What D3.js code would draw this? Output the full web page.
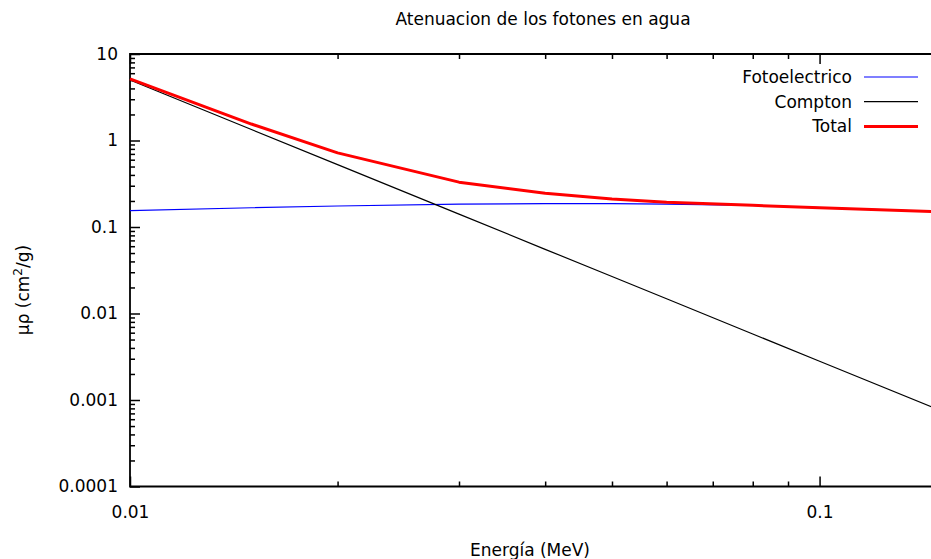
<!DOCTYPE html>
<html>
<head>
<meta charset="utf-8">
<script src="https://cdn.jsdelivr.net/npm/d3@7"></script>
<style>
  html, body { margin: 0; padding: 0; background: #fff; overflow: hidden; }
  svg { display: block; font-family: "DejaVu Sans", Verdana, sans-serif; }
</style>
</head>
<body>
<svg id="chart" width="931" height="559"></svg>
<script>
// ---- Data ----
const energia = [0.01, 0.015, 0.02, 0.03, 0.04, 0.05, 0.06, 0.08, 0.1, 0.15];
const fotoelectrico = [0.155, 0.167, 0.175, 0.184, 0.186, 0.186, 0.184, 0.178, 0.168, 0.150];
const compton = [5.0, 1.34, 0.526, 0.141, 0.0552, 0.0268, 0.0148, 0.0058, 0.00281, 0.00075];
const total = [5.15, 1.55, 0.72, 0.33, 0.245, 0.211, 0.193, 0.178, 0.167, 0.150];

const seriesNames = ["Fotoelectrico", "Compton", "Total"];
const seriesColors = ["#0000ff", "#000000", "#ff0000"];
const seriesWidths = [1.2, 1.2, 3];

const xTickValues = [0.01, 0.1];
const xTickLabels = ["0.01", "0.1"];
const yTickValues = [10, 1, 0.1, 0.01, 0.001, 0.0001];
const yTickLabels = ["10", "1", "0.1", "0.01", "0.001", "0.0001"];

const titleText = "Atenuacion de los fotones en agua";
const xLabelText = "Energía (MeV)";

// ---- Layout ----
const svg = d3.select("#chart");
const mLeft = 130, mRight = 941, mTop = 54, mBottom = 486.5;
const fontSize = 17;

const x = d3.scaleLog().domain([0.01, 0.15]).range([mLeft, mRight]);
const y = d3.scaleLog().domain([0.0001, 10]).range([mBottom, mTop]);

// minor ticks
function minorTicks(lo, hi) {
  const out = [];
  for (let e = Math.floor(Math.log10(lo)); e <= Math.ceil(Math.log10(hi)); e++) {
    for (let m = 2; m <= 9; m++) {
      const v = m * Math.pow(10, e);
      if (v > lo * 1.0001 && v < hi * 0.9999) out.push(v);
    }
  }
  return out;
}
const xMinor = minorTicks(0.01, 0.15);
const yMinor = minorTicks(0.0001, 10);

function styleAxis(g) {
  g.select(".domain").remove();
  g.selectAll(".tick line").attr("stroke", "#000").attr("stroke-width", 1.5);
  g.selectAll(".tick text").attr("fill", "#000").style("font-size", fontSize + "px")
    .style("font-family", "\"DejaVu Sans\", Verdana, sans-serif");
}

// bottom axis major
svg.append("g").attr("transform", `translate(0,${mBottom})`)
  .call(d3.axisBottom(x).tickValues(xTickValues).tickFormat((d, i) => xTickLabels[i]).tickSize(-10).tickPadding(19))
  .call(styleAxis);
svg.append("g").attr("transform", `translate(0,${mBottom})`)
  .call(d3.axisBottom(x).tickValues(xMinor).tickFormat("").tickSize(-5))
  .call(styleAxis);
// top mirror
svg.append("g").attr("transform", `translate(0,${mTop})`)
  .call(d3.axisTop(x).tickValues(xTickValues).tickFormat("").tickSize(-10))
  .call(styleAxis);
svg.append("g").attr("transform", `translate(0,${mTop})`)
  .call(d3.axisTop(x).tickValues(xMinor).tickFormat("").tickSize(-5))
  .call(styleAxis);

// left axis
svg.append("g").attr("transform", `translate(${mLeft},0)`)
  .call(d3.axisLeft(y).tickValues(yTickValues).tickFormat((d, i) => yTickLabels[i]).tickSize(-10).tickPadding(12))
  .call(styleAxis);
svg.append("g").attr("transform", `translate(${mLeft},0)`)
  .call(d3.axisLeft(y).tickValues(yMinor).tickFormat("").tickSize(-5))
  .call(styleAxis);

// border
svg.append("path")
  .attr("d", `M${mRight},${mTop}H${mLeft}V${mBottom}H${mRight}`)
  .attr("fill", "none").attr("stroke", "#000").attr("stroke-width", 1.8);

// lines
const allSeries = [fotoelectrico, compton, total];
const line = d3.line().x(d => x(d[0])).y(d => y(d[1]));
allSeries.forEach((vals, i) => {
  const pts = energia.map((e, j) => [e, vals[j]]);
  svg.append("path").datum(pts)
    .attr("d", line)
    .attr("fill", "none")
    .attr("stroke", seriesColors[i])
    .attr("stroke-width", seriesWidths[i])
    .attr("stroke-linejoin", "round");
});

// legend
const legendTextX = 852, legendLineX1 = 864, legendLineX2 = 918;
const legendY0 = 77, legendDy = 24.7;
seriesNames.forEach((name, i) => {
  const ly = legendY0 + i * legendDy;
  svg.append("text").attr("x", legendTextX).attr("y", ly).attr("dy", "0.35em")
    .attr("text-anchor", "end").style("font-size", fontSize + "px").attr("fill", "#000").text(name);
  svg.append("line").attr("x1", legendLineX1).attr("x2", legendLineX2).attr("y1", ly).attr("y2", ly)
    .attr("stroke", seriesColors[i]).attr("stroke-width", seriesWidths[i]);
});

// title
svg.append("text").attr("x", 543).attr("y", 25).attr("text-anchor", "middle")
  .style("font-size", fontSize + "px").attr("fill", "#000").text(titleText);

// x label
svg.append("text").attr("x", 530).attr("y", 556).attr("text-anchor", "middle")
  .style("font-size", fontSize + "px").attr("fill", "#000").text(xLabelText);

// y label
const yl = svg.append("text").attr("transform", "translate(29,290) rotate(-90)")
  .attr("text-anchor", "middle").style("font-size", fontSize + "px").attr("fill", "#000");
yl.append("tspan").text("μρ (cm");
yl.append("tspan").attr("baseline-shift", "super").style("font-size", "12px").text("2");
yl.append("tspan").text("/g)");
</script>
</body>
</html>
